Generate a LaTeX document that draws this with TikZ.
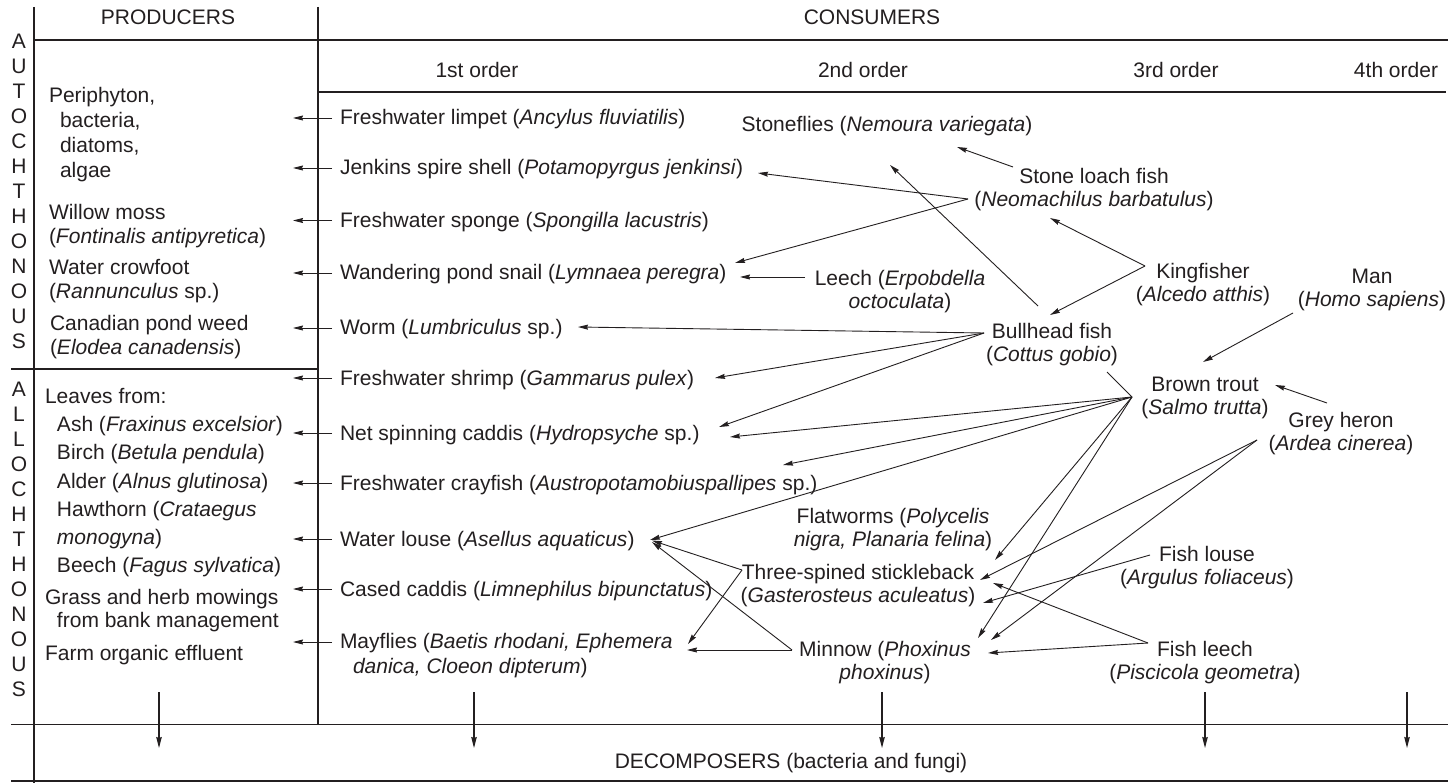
\documentclass[tikz,border=0pt]{standalone}
\usepackage{fontspec}
\setmainfont{Liberation Sans}
\usetikzlibrary{arrows.meta}
\definecolor{ink}{RGB}{35,31,32}
\begin{document}
\begin{tikzpicture}[x=1pt,y=-1pt,
  every node/.style={inner sep=0pt, outer sep=0pt, text=ink},
  lbl/.style={font=\fontsize{21}{23}\selectfont},
  fo/.style={lbl, anchor=base west},
  hd/.style={lbl, anchor=base},
  cl/.style={lbl, align=center, anchor=north, execute at begin node=\strut},
  pr/.style={lbl, align=left, anchor=north west, execute at begin node=\strut},
  frame/.style={draw=ink, line width=1.9pt},
  link/.style={draw=ink, line width=0.9pt},
  arr/.style={draw=ink, line width=0.9pt, -{Stealth[length=10pt,width=5pt,inset=1pt]}},
  darr/.style={draw=ink, line width=1.1pt, -{Stealth[length=11pt,width=5.5pt,inset=1pt]}}]
\useasboundingbox (0,0) rectangle (1448,783);
\fill[white] (0,0) rectangle (1448,783);

% frame
\draw[frame] (34,7) -- (34,783);
\draw[frame] (318,7) -- (318,724.5);
\draw[frame] (34,40) -- (1448,40);
\draw[frame] (318,92) -- (1446,92);
\draw[frame] (11,369) -- (318,369);
\draw[frame] (11,724.5) -- (1448,724.5);
\draw[frame] (11,781) -- (1448,781);

% headings
\node[hd] (prod) at (168,25) {PRODUCERS};
\node[hd] (cons) at (872,24.5) {CONSUMERS};
\node[hd] (o1) at (477,77.5) {1st order};
\node[hd] (o2) at (863,77.5) {2nd order};
\node[hd] (o3) at (1176,77.5) {3rd order};
\node[hd] (o4) at (1396,77.5) {4th order};
\node[hd] (decomp) at (791,768) {DECOMPOSERS (bacteria and fungi)};

% side labels
\node[cl, font=\fontsize{21}{25}\selectfont] (auto) at (19,34.5) {A\\U\\T\\O\\C\\H\\T\\H\\O\\N\\O\\U\\S};
\node[cl, font=\fontsize{21}{25}\selectfont] (allo) at (19,382.5) {A\\L\\L\\O\\C\\H\\T\\H\\O\\N\\O\\U\\S};

% producers
\node[pr, font=\fontsize{21}{24.8}\selectfont] (periph) at (49,87.6) {Periphyton,\\\hspace*{11pt}bacteria,\\\hspace*{11pt}diatoms,\\\hspace*{11pt}algae};
\node[pr, font=\fontsize{21}{24.5}\selectfont] (willow) at (49,203.9) {Willow moss\\(\textit{Fontinalis antipyretica})};
\node[pr, font=\fontsize{21}{24.5}\selectfont] (crowfoot) at (49,258.9) {Water crowfoot\\(\textit{Rannunculus} sp.)};
\node[pr, font=\fontsize{21}{24.5}\selectfont] (elodea) at (50,314.9) {Canadian pond weed\\(\textit{Elodea canadensis})};
\node[pr, font=\fontsize{21}{28.2}\selectfont] (leaves) at (45,388.3) {Leaves from:\\\hspace*{12pt}Ash (\textit{Fraxinus excelsior})\\\hspace*{12pt}Birch (\textit{Betula pendula})\\\hspace*{12pt}Alder (\textit{Alnus glutinosa})\\\hspace*{12pt}Hawthorn (\textit{Crataegus}\\\hspace*{12pt}\textit{monogyna})\\\hspace*{12pt}Beech (\textit{Fagus sylvatica})};
\node[pr] (grass) at (45,588.9) {Grass and herb mowings\\\hspace*{12pt}from bank management};
\node[fo] (farm) at (45,660) {Farm organic effluent};

% 1st order consumers
\node[fo] (limpet) at (340,125) {Freshwater limpet (\textit{Ancylus fluviatilis})};
\node[fo] (jenkins) at (340,175) {Jenkins spire shell (\textit{Potamopyrgus jenkinsi})};
\node[fo] (sponge) at (340,227.5) {Freshwater sponge (\textit{Spongilla lacustris})};
\node[fo] (snail) at (340,280) {Wandering pond snail (\textit{Lymnaea peregra})};
\node[fo] (worm) at (340,335) {Worm (\textit{Lumbriculus} sp.)};
\node[fo] (shrimp) at (340,385) {Freshwater shrimp (\textit{Gammarus pulex})};
\node[fo] (netcad) at (340,440) {Net spinning caddis (\textit{Hydropsyche} sp.)};
\node[fo] (crayfish) at (340,490) {Freshwater crayfish (\textit{Austropotamobiuspallipes} sp.)};
\node[fo] (louse) at (340,546) {Water louse (\textit{Asellus aquaticus})};
\node[fo] (cased) at (340,596) {Cased caddis (\textit{Limnephilus bipunctatus})};
\node[pr, font=\fontsize{21}{25}\selectfont] (mayflies) at (340,633.5) {Mayflies (\textit{Baetis rhodani, Ephemera}\\\hspace*{13pt}\textit{danica, Cloeon dipterum})};

% higher consumers
\node[hd] (stonefl) at (887,132) {Stoneflies (\textit{Nemoura variegata})};
\node[cl] (loach) at (1094,167.9) {Stone loach fish\\(\textit{Neomachilus barbatulus})};
\node[cl] (leech) at (900,269.9) {Leech (\textit{Erpobdella}\\\textit{octoculata})};
\node[cl] (kingf) at (1203,262.9) {Kingfisher\\(\textit{Alcedo atthis})};
\node[cl] (man) at (1372,268.9) {Man\\(\textit{Homo sapiens})};
\node[cl] (bullh) at (1052,322.9) {Bullhead fish\\(\textit{Cottus gobio})};
\node[cl] (trout) at (1205,376.9) {Brown trout\\(\textit{Salmo trutta})};
\node[cl] (heron) at (1341,411.9) {Grey heron\\(\textit{Ardea cinerea})};
\node[cl] (flatw) at (893,507.9) {Flatworms (\textit{Polycelis}\\\textit{nigra, Planaria felina})};
\node[cl] (stickle) at (858,563.9) {Three-spined stickleback\\(\textit{Gasterosteus aculeatus})};
\node[cl] (flouse) at (1207,545.9) {Fish louse\\(\textit{Argulus foliaceus})};
\node[cl] (minnow) at (885,640.9) {Minnow (\textit{Phoxinus}\\\textit{phoxinus})};
\node[cl] (fleech) at (1205,640.9) {Fish leech\\(\textit{Piscicola geometra})};

% arrows to producers
\foreach \n in {limpet,jenkins,sponge,snail,worm,shrimp,netcad,crayfish,louse,cased}
  \draw[arr] (\n.base west) ++(-8,-7) -- ++(-39,0);
\draw[arr] ([shift={(-8,8.5)}]mayflies.north west) -- ++(-39,0);

% hub and end coordinates
\coordinate (slh) at (968,199);
\coordinate (slt) at (1013,167);
\coordinate (kfh) at (1145,266);
\coordinate (bhh) at (984,333);
\coordinate (bht) at (1038,306);
\coordinate (bhb) at (1107,372);
\coordinate (bth) at (1132,397);
\coordinate (ghh) at (1257,440);
\coordinate (ght) at (1327,403);
\coordinate (mant) at (1293,313);
\coordinate (flh) at (1150,555);
\coordinate (fleh) at (1148,643);
\coordinate (mnh) at (792,650);
\coordinate (sbh) at (742,570);
\coordinate (leh) at (805,277);

\coordinate (sf1) at (957,147);
\coordinate (sf2) at (890,165);
\coordinate (jk1) at (758,173);
\coordinate (sn1) at (735,263);
\coordinate (sn2) at (740,277);
\coordinate (lo1) at (1050,218);
\coordinate (bu1) at (1050,315);
\coordinate (wo1) at (578,327);
\coordinate (sh1) at (715,378);
\coordinate (nc1) at (719,427);
\coordinate (nc2) at (730,437);
\coordinate (cr1) at (783,465);
\coordinate (wl1) at (650,540);
\coordinate (wl2) at (652,542);
\coordinate (wl3) at (652,540.5);
\coordinate (st1) at (995,560);
\coordinate (st2) at (980,580);
\coordinate (st3) at (983,603);
\coordinate (st4) at (993,583);
\coordinate (mi1) at (978,638);
\coordinate (mi2) at (991,640);
\coordinate (mi3) at (988,653);
\coordinate (tr1) at (1275,385);
\coordinate (tr2) at (1203,362);
\coordinate (my1) at (687,650);
\coordinate (my2) at (688,644);

% feeding links
\draw[arr] (slt) -- (sf1);
\draw[arr] (slh) -- (jk1);
\draw[arr] (slh) -- (sn1);
\draw[arr] (leh) -- (sn2);
\draw[arr] (bht) -- (sf2);
\draw[arr] (kfh) -- (lo1);
\draw[arr] (kfh) -- (bu1);
\draw[arr] (bhh) -- (wo1);
\draw[arr] (bhh) -- (sh1);
\draw[arr] (bhh) -- (nc1);
\draw[link] (bhb) -- (bth);
\draw[arr] (bth) -- (nc2);
\draw[arr] (bth) -- (cr1);
\draw[arr] (bth) -- (wl1);
\draw[arr] (bth) -- (st1);
\draw[arr] (bth) -- (mi1);
\draw[arr] (ght) -- (tr1);
\draw[arr] (mant) -- (tr2);
\draw[arr] (ghh) -- (st2);
\draw[arr] (ghh) -- (mi2);
\draw[arr] (flh) -- (st3);
\draw[arr] (fleh) -- (st4);
\draw[arr] (fleh) -- (mi3);
\draw[arr] (mnh) -- (my1);
\draw[arr] (mnh) -- (wl2);
\draw[arr] (sbh) -- (wl3);
\draw[arr] (sbh) -- (my2);

% decomposer arrows
\foreach \i/\x in {1/159,2/474,3/882,4/1205,5/1407}{
  \coordinate (dk\i) at (\x,692);
  \draw[darr] (dk\i) -- ++(0,56);
}
\end{tikzpicture}
\end{document}
